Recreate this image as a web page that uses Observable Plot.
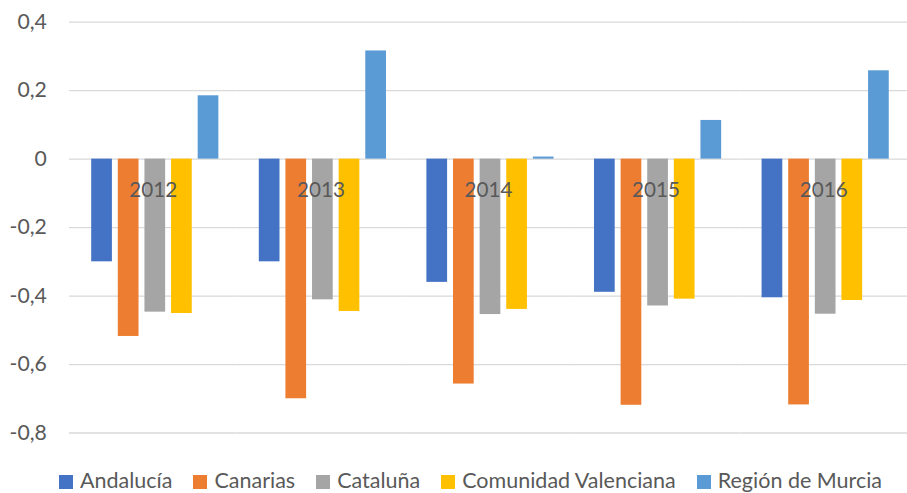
<!DOCTYPE html>
<html>
<head>
<meta charset="utf-8">
<script src="https://cdn.jsdelivr.net/npm/d3@7"></script>
<script src="https://cdn.jsdelivr.net/npm/@observablehq/plot@0.6"></script>
<style>
  html, body { margin: 0; padding: 0; background: #fff; }
  body { font-family: Lato, "Open Sans", sans-serif; }
  #wrap { width: 907px; height: 493px; overflow: hidden; position: relative; }
  #legend { position: absolute; left: 59px; top: 470px; height: 20px; display: flex; align-items: center; font-size: 21.5px; line-height: 20px; color: #595959; white-space: nowrap; }
  #legend .item { display: flex; align-items: center; margin-right: 21px; }
  #legend .sw { width: 14px; height: 14px; margin-right: 7px; margin-top: 3px; }
</style>
</head>
<body>
<div id="wrap"><div id="chart"></div><div id="legend"></div></div>
<script>
const years = ["2012", "2013", "2014", "2015", "2016"];
const regions = ["Andalucía", "Canarias", "Cataluña", "Comunidad Valenciana", "Región de Murcia"];
const colors = ["#4472C4", "#ED7D31", "#A5A5A5", "#FFC000", "#5B9BD5"];
const andalucia = [-0.30, -0.30, -0.36, -0.389, -0.405];
const canarias = [-0.518, -0.70, -0.657, -0.719, -0.718];
const cataluna = [-0.447, -0.411, -0.454, -0.429, -0.453];
const valenciana = [-0.451, -0.445, -0.439, -0.409, -0.413];
const murcia = [0.185, 0.316, 0.006, 0.113, 0.258];
const yTicks = [-0.8, -0.6, -0.4, -0.2, 0, 0.2, 0.4];

const series = [andalucia, canarias, cataluna, valenciana, murcia];
const data = [];
years.forEach((yr, i) => regions.forEach((r, j) => data.push({year: yr, region: r, value: series[j][i]})));

const fmt = d => d === 0 ? "0" : d.toFixed(1).replace(".", ",");

const chart = Plot.plot({
  width: 920,
  height: 462,
  marginLeft: 69.5,
  marginRight: 0,
  marginTop: 22,
  marginBottom: 23.3,
  style: {fontFamily: "Lato, 'Open Sans', sans-serif", background: "#fff"},
  fx: {domain: years, padding: 0, axis: null},
  x: {domain: regions, paddingInner: 0.2115, paddingOuter: 0.683, align: 0.55, axis: null},
  y: {domain: [-0.8, 0.4], axis: null},
  color: {domain: regions, range: colors},
  marks: [
    Plot.gridY(yTicks, {stroke: "#D9D9D9", strokeOpacity: 1, strokeWidth: 1.3}),
    Plot.axisY(yTicks, {tickSize: 0, tickPadding: 23, tickFormat: fmt, fontSize: 21.5, fill: "#595959", label: null}),
    Plot.barY(data, {fx: "year", x: "region", y: "value", fill: "region"}),
    Plot.text(years, {fx: d => d, y: d => 0, text: d => d, dy: 32, fontSize: 21, fill: "#595959"})
  ]
});
document.getElementById("chart").appendChild(chart);

const legend = document.getElementById("legend");
regions.forEach((r, i) => {
  const it = document.createElement("div");
  it.className = "item";
  const sw = document.createElement("div");
  sw.className = "sw";
  sw.style.background = colors[i];
  const t = document.createElement("span");
  t.textContent = r;
  it.appendChild(sw); it.appendChild(t);
  legend.appendChild(it);
});
</script>
</body>
</html>
